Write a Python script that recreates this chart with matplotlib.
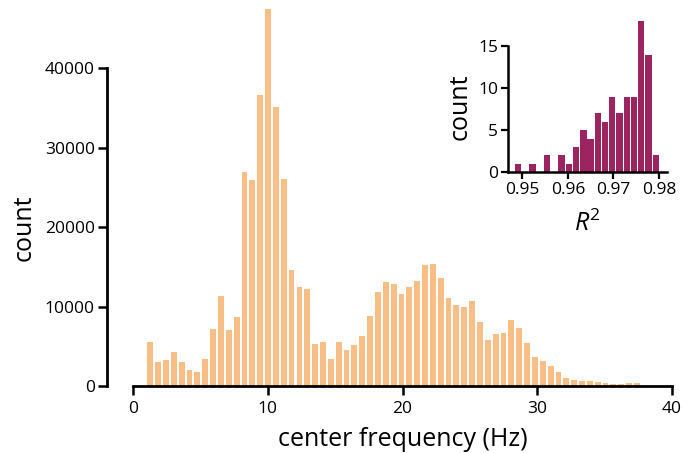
import numpy as np
import matplotlib
matplotlib.use("Agg")
import matplotlib.pyplot as plt

plt.rcParams['font.family'] = ['Open Sans', 'DejaVu Sans']
plt.rcParams['mathtext.fontset'] = 'custom'
plt.rcParams['mathtext.rm'] = 'Open Sans'
plt.rcParams['mathtext.it'] = 'Open Sans:italic'

# main histogram: center frequency (Hz), 67 bins from ~1 to 40 Hz
freq_edges = np.linspace(0.99, 40.02, 68)
freq_counts = [5500, 2980, 3270, 4280, 3060, 2010, 1800, 3400, 7170, 11280,
               7050, 8720, 26880, 25960, 36600, 47430, 35100, 26000, 14550, 12450,
               12180, 5300, 5570, 3400, 5500, 4490, 5160, 6250, 8850, 11830,
               13040, 12830, 11530, 12410, 13170, 15220, 15390, 13590, 11030, 10190,
               9940, 10690, 8050, 5750, 6500, 6670, 8340, 7300, 5410, 3650,
               3100, 2560, 1760, 1000, 700, 620, 620, 530, 360, 240,
               220, 360, 420, 100, 60, 30, 20]
freq_ticks = [0, 10, 20, 30, 40]
count_ticks = [0, 10000, 20000, 30000, 40000]

# inset histogram: R^2 of fits
r2_edges = np.linspace(0.9483, 0.9801, 21)
r2_counts = [1, 0, 1, 0, 2, 0, 2, 1, 3, 5, 4, 7, 6, 9, 7, 9, 9, 18, 14, 2]
r2_ticks = [0.95, 0.96, 0.97, 0.98]
r2_count_ticks = [0, 5, 10, 15]

peach = '#F9BE86'
plum = '#9C2461'

fig = plt.figure(figsize=(6.82, 4.53), dpi=100)

# main axes
ax = fig.add_axes([133 / 682, 1 - 386 / 453, 539 / 682, 386 / 453])
w = np.diff(freq_edges)
ax.bar(freq_edges[:-1] + w / 2, freq_counts, width=w * 0.74, color=peach)
ax.set_xlim(0, 40)
ax.set_ylim(0, 48560)
ax.set_xticks(freq_ticks)
ax.set_yticks(count_ticks)
for s in ['top', 'right']:
    ax.spines[s].set_visible(False)
ax.spines['left'].set_position(('outward', 19))
ax.spines['left'].set_bounds(0, 40000)
ax.spines['bottom'].set_bounds(0, 40)
for s in ['left', 'bottom']:
    ax.spines[s].set_linewidth(2)
ax.tick_params(axis='both', length=6.5, width=1.8, labelsize=12.5)
ax.tick_params(axis='x', pad=4)
ax.tick_params(axis='y', pad=2)
ax.set_xlabel('center frequency (Hz)', fontsize=18)
ax.set_ylabel('count', fontsize=18)
ax.xaxis.set_label_coords(0.5, -0.106)
ax.yaxis.set_label_coords(-0.179, 0.41)

# inset axes
ins = fig.add_axes([507.7 / 682, 1 - 172.3 / 453, 159 / 682, 152.9 / 453])
w2 = np.diff(r2_edges)
ins.bar(r2_edges[:-1] + w2 / 2, r2_counts, width=w2 * 0.87, color=plum)
ins.set_xlim(0.9468, 0.9817)
ins.set_ylim(0, 18.2)
ins.set_xticks(r2_ticks)
ins.set_xticklabels(['0.95', '0.96', '0.97', '0.98'])
ins.set_yticks(r2_count_ticks)
for s in ['top', 'right']:
    ins.spines[s].set_visible(False)
ins.spines['left'].set_bounds(0, 15)
for s in ['left', 'bottom']:
    ins.spines[s].set_linewidth(1.8)
ins.tick_params(axis='both', length=5, width=1.6, labelsize=12.5, pad=2)
ins.set_xlabel(r'$R^2$', fontsize=18)
ins.set_ylabel('count', fontsize=18)
ins.xaxis.set_label_coords(0.5, -0.25)
ins.yaxis.set_label_coords(-0.22, 0.43)

fig.savefig('out.png', dpi=100)
